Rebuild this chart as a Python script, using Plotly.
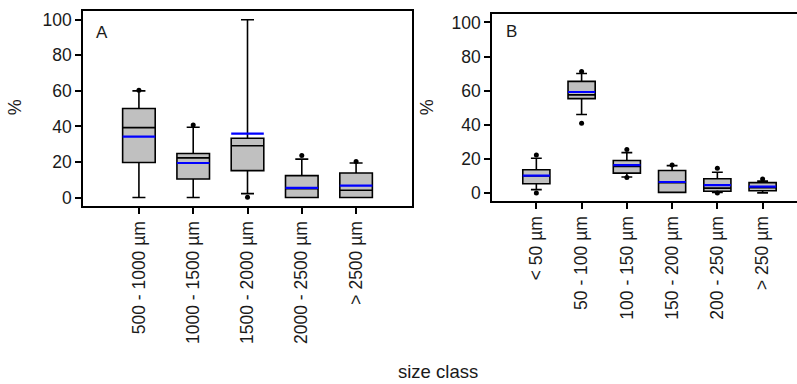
import plotly.graph_objects as go

# Panel A: coarse size classes
cats_a = ["500 - 1000 µm", "1000 - 1500 µm", "1500 - 2000 µm", "2000 - 2500 µm", "> 2500 µm"]
q1_a = [19.7, 10.4, 15.1, 0.0, 0.0]
med_a = [39.3, 22.3, 29.1, 5.0, 4.1]
q3_a = [50.1, 24.8, 33.3, 12.3, 13.8]
lo_a = [0.0, 0.0, 2.2, 0.0, 0.0]
hi_a = [60.0, 39.5, 100.0, 21.6, 19.4]
mean_a = [34.3, 19.4, 35.9, 5.4, 6.7]
out_a_x = [0, 1, 2, 3, 4]
out_a_y = [60.3, 40.8, 0.2, 23.6, 20.2]

# Panel B: fine size classes
cats_b = ["< 50 µm", "50 - 100 µm", "100 - 150 µm", "150 - 200 µm", "200 - 250 µm", "> 250 µm"]
q1_b = [5.4, 55.3, 11.6, 0.3, 1.0, 1.3]
med_b = [10.0, 57.5, 15.5, 6.0, 2.8, 3.0]
q3_b = [13.6, 65.4, 19.0, 13.1, 8.3, 6.0]
lo_b = [1.9, 46.0, 9.3, 0.3, 0.3, 0.0]
hi_b = [20.3, 70.0, 23.6, 16.0, 12.1, 7.0]
mean_b = [10.1, 59.2, 16.3, 6.4, 4.6, 3.7]
out_b_x = [0, 0, 1, 1, 2, 2, 3, 4, 4, 5]
out_b_y = [22.3, 0.0, 71.2, 40.8, 25.5, 9.0, 16.4, 14.4, 0.0, 8.2]

W, H = 797, 384
FONT = "Liberation Sans, Arial, sans-serif"
GRAY = "#c0c0c0"
BLUE = "#0000ff"
BOX_W = 0.6
FS = 17.5


def px_x(p):
    return p / W


def px_y(p):
    return 1 - p / H


fig = go.Figure()


def add_panel(xref, yref, q1, med, q3, lo, hi, mean, ox, oy):
    n = len(q1)
    fig.add_trace(go.Box(
        x=list(range(n)), q1=q1, median=med, q3=q3,
        lowerfence=lo, upperfence=hi,
        width=BOX_W, whiskerwidth=0.4,
        fillcolor=GRAY, line=dict(color="black", width=1.6),
        boxpoints=False, showlegend=False, hoverinfo="skip",
        xaxis=xref, yaxis=yref,
    ))
    mx, my = [], []
    for i, m in enumerate(mean):
        mx += [i - BOX_W / 2, i + BOX_W / 2, None]
        my += [m, m, None]
    fig.add_trace(go.Scatter(
        x=mx, y=my, mode="lines", line=dict(color=BLUE, width=2.2),
        showlegend=False, hoverinfo="skip", xaxis=xref, yaxis=yref,
    ))
    fig.add_trace(go.Scatter(
        x=ox, y=oy, mode="markers",
        marker=dict(color="black", size=5),
        showlegend=False, hoverinfo="skip", xaxis=xref, yaxis=yref,
    ))


add_panel("x", "y", q1_a, med_a, q3_a, lo_a, hi_a, mean_a, out_a_x, out_a_y)
add_panel("x2", "y2", q1_b, med_b, q3_b, lo_b, hi_b, mean_b, out_b_x, out_b_y)

tickfont = dict(family=FONT, size=FS, color="#1a1a1a")
yvals = [0, 20, 40, 60, 80, 100]

xa_common = dict(
    tickmode="array", tickangle=-90, tickfont=tickfont,
    ticks="outside", ticklen=6, tickwidth=1.5, tickcolor="black",
    showline=True, linecolor="black", linewidth=1.5, mirror=True,
    showgrid=False, zeroline=False, fixedrange=True,
)
ya_common = dict(
    tickvals=yvals, tickfont=tickfont,
    ticks="outside", ticklen=6, tickwidth=1.5, tickcolor="black",
    showline=True, linecolor="black", linewidth=1.5,
    showgrid=False, zeroline=False, range=[-5, 105], fixedrange=True,
)

fig.update_layout(
    width=W, height=H,
    margin=dict(l=0, r=0, t=0, b=0),
    paper_bgcolor="white", plot_bgcolor="white",
    font=dict(family=FONT, size=FS, color="#1a1a1a"),
    xaxis=dict(domain=[px_x(83), px_x(412)], range=[-1.03, 5.03],
               tickvals=list(range(len(cats_a))), ticktext=cats_a,
               anchor="y", **xa_common),
    yaxis=dict(domain=[px_y(207), px_y(10)], anchor="x", mirror=True, **ya_common),
    xaxis2=dict(domain=[px_x(492), 1.0], range=[-0.98, 5.76],
                tickvals=list(range(len(cats_b))), ticktext=cats_b,
                anchor="y2", **xa_common),
    yaxis2=dict(domain=[px_y(202), px_y(13)], anchor="x2", mirror=False, **ya_common),
)


def label(x, y, text, size, angle=0):
    fig.add_annotation(x=px_x(x), y=px_y(y), xref="paper", yref="paper",
                       xanchor="center", yanchor="middle",
                       text=text, textangle=angle, showarrow=False,
                       font=dict(size=size))


# panel letters, axis titles
label(102, 32, "A", 17)
label(512, 31, "B", 17)
label(15, 107, "%", 18, -90)
label(427, 107, "%", 18, -90)
label(437.5, 373, "size class", 18.5)

fig.write_html("out.html")
